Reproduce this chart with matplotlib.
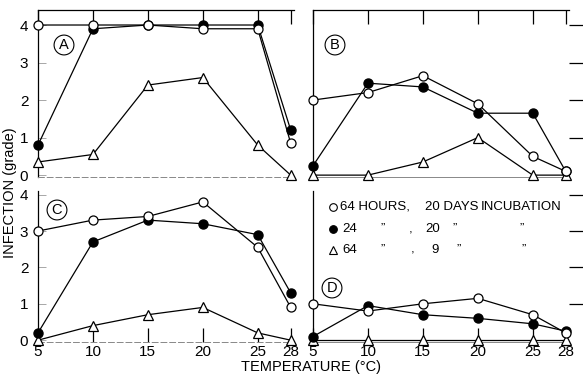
import matplotlib.pyplot as plt

temps = [5, 10, 15, 20, 25, 28]

# panel A
a_open = [4.0, 4.0, 4.0, 3.9, 3.9, 0.85]
a_fill = [0.8, 3.9, 4.0, 4.0, 4.0, 1.2]
a_tri = [0.35, 0.55, 2.4, 2.6, 0.8, 0.0]
# panel B
b_open = [2.0, 2.2, 2.65, 1.9, 0.5, 0.1]
b_fill = [0.25, 2.45, 2.35, 1.65, 1.65, 0.1]
b_tri = [0.0, 0.0, 0.35, 1.0, 0.0, 0.0]
# panel C
c_open = [3.0, 3.3, 3.4, 3.8, 2.55, 0.9]
c_fill = [0.2, 2.7, 3.3, 3.2, 2.9, 1.3]
c_tri = [0.0, 0.4, 0.7, 0.9, 0.2, 0.0]
# panel D
d_open = [1.0, 0.8, 1.0, 1.15, 0.7, 0.2]
d_fill = [0.1, 0.95, 0.7, 0.6, 0.45, 0.25]
d_tri = [0.0, 0.0, 0.0, 0.0, 0.0, 0.0]

yticks = [0, 1, 2, 3, 4]
xticklabels = ["5", "10", "15", "20", "25", "28"]

plt.rcParams["font.family"] = ["Liberation Sans Narrow", "Liberation Sans", "DejaVu Sans"]

W, H = 583, 376
fig = plt.figure(figsize=(W / 100, H / 100), dpi=100)


def px_axes(x0, x1, y0, y1):
    # pixel box -> figure fraction
    return fig.add_axes([x0 / W, 1 - y1 / H, (x1 - x0) / W, (y1 - y0) / H])


panels = [
    ("A", a_open, a_fill, a_tri, px_axes(38, 294, 10, 177), True, True),
    ("B", b_open, b_fill, b_tri, px_axes(313, 569, 10, 177), True, False),
    ("C", c_open, c_fill, c_tri, px_axes(38, 294, 191, 342), False, True),
    ("D", d_open, d_fill, d_tri, px_axes(313, 569, 191, 342), False, False),
]

label_pos = {"A": (64, 45), "B": (335, 45), "C": (57, 210), "D": (332, 288)}

for name, yo, yf, yt, ax, top, left in panels:
    ax.plot(temps, yt, color="black", lw=0.9, marker="^", ms=7,
            mfc="white", mec="black", mew=0.9, clip_on=False, zorder=3)
    ax.plot(temps, yf, color="black", lw=0.9, marker="o", ms=6.5,
            mfc="black", mec="black", clip_on=False, zorder=4)
    ax.plot(temps, yo, color="black", lw=0.9, marker="o", ms=6.5,
            mfc="white", mec="black", mew=0.9, clip_on=False, zorder=5)

    ax.set_xlim(5, 28.3)
    if top:
        ax.set_ylim(-0.05, 4.4)
    else:
        ax.set_ylim(-0.05, 4.1)

    for s in ax.spines.values():
        s.set_linewidth(0.9)
    ax.spines["right"].set_visible(False)
    ax.spines["top"].set_visible(top)
    ax.spines["bottom"].set_color("#888888")
    ax.spines["bottom"].set_linewidth(0.7)
    if left:
        ax.spines["bottom"].set_linestyle((0, (6, 3)))

    ax.set_xticks(temps)
    if top:
        ax.tick_params(axis="x", bottom=False, top=True, labelbottom=False,
                       direction="in", length=10, width=0.9)
    else:
        ax.set_xticklabels(xticklabels)
        ax.tick_params(axis="x", bottom=True, top=False, direction="in",
                       length=10, width=0.9, labelsize=11, pad=2)

    ax.set_yticks(yticks)
    if left:
        ax.tick_params(axis="y", left=True, right=False, direction="in",
                       length=6, width=0.6, color="#999999", labelsize=11, pad=7)
    else:
        ax.tick_params(axis="y", left=False, right=True, labelleft=False,
                       direction="out", length=11, width=0.9, pad=0)
        ax.set_yticks([1, 2, 3, 4])

    lx, ly = label_pos[name]
    fig.text(lx / W, 1 - ly / H, name, ha="center", va="center", fontsize=10.5,
             bbox=dict(boxstyle="circle,pad=0.2", fc="white", ec="black", lw=0.8))

fig.text(10 / W, 1 - 193 / H, "INFECTION (grade)", rotation=90,
         ha="center", va="center", fontsize=10.5)
fig.text(311 / W, 1 - 367 / H, "TEMPERATURE (\u00b0C)", ha="center",
         va="center", fontsize=10.5)

# key
rows_y = [207, 229, 250]
markers = [("o", "white"), ("o", "black"), ("^", "white")]
for y, (m, fc) in zip(rows_y, markers):
    fig.add_artist(plt.Line2D([333 / W], [1 - y / H], marker=m, ms=5.5 if m == "o" else 6,
                              mfc=fc, mec="black", mew=0.8, ls="none"))

fs = 9.5
key_pieces = [
    (340, 207, "64 HOURS,"), (425, 207, "20 DAYS"), (481, 207, "INCUBATION"),
    (342, 229, "24"), (381, 229, "\u201d"), (409, 229, ","), (425, 229, "20"),
    (453, 229, "\u201d"), (520, 229, "\u201d"),
    (342, 250, "64"), (381, 250, "\u201d"), (411, 250, ","), (431, 250, "9"),
    (457, 250, "\u201d"), (522, 250, "\u201d"),
]
for x, y, s in key_pieces:
    fig.text(x / W, 1 - y / H, s, ha="left", va="center", fontsize=fs)

fig.savefig("out.png", dpi=100)
